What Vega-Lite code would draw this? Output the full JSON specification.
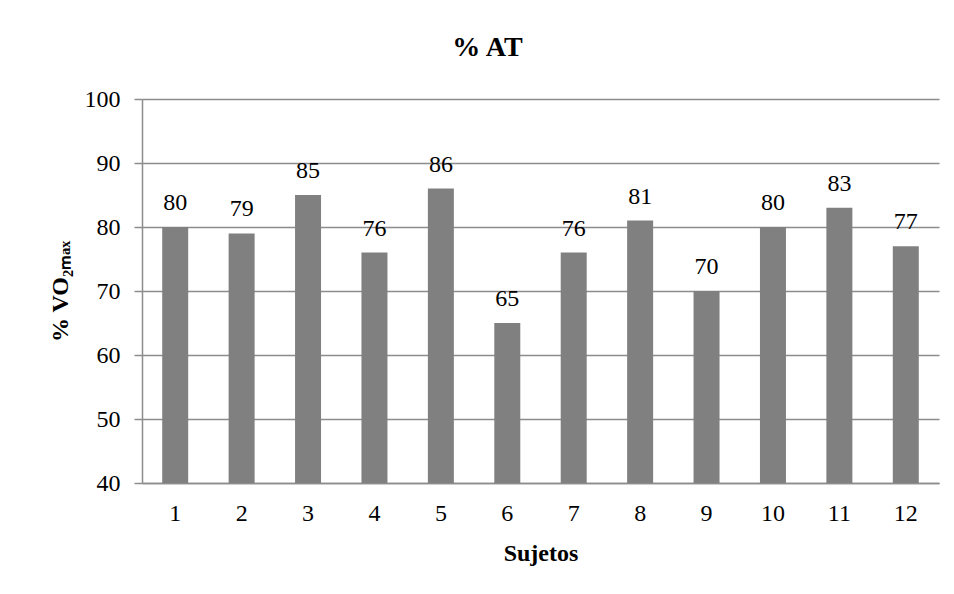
{
  "$schema": "https://vega.github.io/schema/vega-lite/v6.json",
  "autosize": {"type": "none"},
  "width": 797,
  "height": 384,
  "padding": {"left": 142, "top": 99, "right": 15, "bottom": 111},
  "background": "white",
  "title": {
    "text": "% AT",
    "font": "Times New Roman, Liberation Serif, serif",
    "fontSize": 28,
    "fontWeight": "bold",
    "color": "black",
    "anchor": "middle",
    "dx": -53,
    "offset": 25
  },
  "data": {
    "values": [
      {"sujeto": "1", "pct": 80},
      {"sujeto": "2", "pct": 79},
      {"sujeto": "3", "pct": 85},
      {"sujeto": "4", "pct": 76},
      {"sujeto": "5", "pct": 86},
      {"sujeto": "6", "pct": 65},
      {"sujeto": "7", "pct": 76},
      {"sujeto": "8", "pct": 81},
      {"sujeto": "9", "pct": 70},
      {"sujeto": "10", "pct": 80},
      {"sujeto": "11", "pct": 83},
      {"sujeto": "12", "pct": 77}
    ]
  },
  "encoding": {
    "x": {
      "field": "sujeto",
      "type": "ordinal",
      "sort": null,
      "scale": {"paddingInner": 0, "paddingOuter": 0},
      "axis": {
        "title": "Sujetos",
        "labelAngle": 0,
        "ticks": false,
        "labelPadding": 18,
        "titlePadding": 16,
        "domainColor": "#8c8c8c",
        "domainWidth": 1.5
      }
    },
    "y": {
      "field": "pct",
      "type": "quantitative",
      "scale": {"domain": [40, 100], "zero": false, "nice": false},
      "axis": {
        "title": "% VO₂ₘₐₓ",
        "values": [40, 50, 60, 70, 80, 90, 100],
        "tickSize": 8,
        "tickColor": "#8c8c8c",
        "tickWidth": 1.5,
        "labelPadding": 14,
        "titlePadding": 12,
        "grid": true,
        "gridColor": "#8c8c8c",
        "gridWidth": 1.5,
        "domainColor": "#8c8c8c",
        "domainWidth": 1.5
      }
    }
  },
  "layer": [
    {
      "mark": {"type": "bar", "color": "#808080", "size": 26},
      "encoding": {"y2": {"datum": 40}}
    },
    {
      "mark": {
        "type": "text",
        "baseline": "alphabetic",
        "dy": -17,
        "font": "Times New Roman, Liberation Serif, serif",
        "fontSize": 24,
        "color": "black"
      },
      "encoding": {"text": {"field": "pct", "type": "quantitative"}}
    }
  ],
  "config": {
    "view": {"stroke": null},
    "axis": {
      "labelFont": "Times New Roman, Liberation Serif, serif",
      "labelFontSize": 24,
      "labelColor": "black",
      "titleFont": "Times New Roman, Liberation Serif, serif",
      "titleFontSize": 24,
      "titleFontWeight": "bold",
      "titleColor": "black"
    }
  }
}
